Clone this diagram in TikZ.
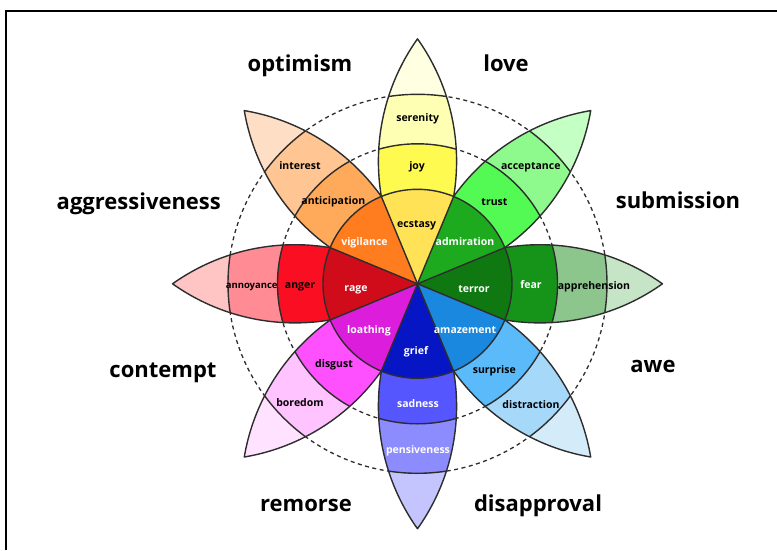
\documentclass[tikz,border=0pt]{standalone}
\usepackage{fontspec}
\setmainfont{Open Sans}
\definecolor{lineC}{RGB}{45,45,45}
% fear petal
\definecolor{terrorC}{RGB}{16,120,16}
\definecolor{fearC}{RGB}{22,148,26}
\definecolor{apprC}{RGB}{140,198,140}
\definecolor{fearT}{RGB}{198,228,198}
% trust petal
\definecolor{admirC}{RGB}{30,170,30}
\definecolor{trustC}{RGB}{84,250,84}
\definecolor{acceptC}{RGB}{142,250,142}
\definecolor{trustT}{RGB}{196,255,196}
% joy petal
\definecolor{ecstasyC}{RGB}{255,226,86}
\definecolor{joyC}{RGB}{255,250,80}
\definecolor{serenC}{RGB}{255,255,180}
\definecolor{joyT}{RGB}{255,255,226}
% anticipation petal
\definecolor{vigilC}{RGB}{255,125,30}
\definecolor{anticC}{RGB}{255,170,90}
\definecolor{interC}{RGB}{255,198,148}
\definecolor{anticT}{RGB}{255,222,198}
% anger petal
\definecolor{rageC}{RGB}{208,12,26}
\definecolor{angerC}{RGB}{250,14,34}
\definecolor{annoyC}{RGB}{255,140,148}
\definecolor{angerT}{RGB}{255,196,196}
% disgust petal
\definecolor{loathC}{RGB}{220,30,220}
\definecolor{disgC}{RGB}{255,80,255}
\definecolor{boredC}{RGB}{255,196,255}
\definecolor{disgT}{RGB}{255,226,255}
% sadness petal
\definecolor{griefC}{RGB}{6,22,196}
\definecolor{sadC}{RGB}{86,86,255}
\definecolor{pensC}{RGB}{140,140,255}
\definecolor{sadT}{RGB}{196,196,255}
% surprise petal
\definecolor{amazeC}{RGB}{26,136,222}
\definecolor{surpC}{RGB}{90,186,250}
\definecolor{distrC}{RGB}{166,216,250}
\definecolor{surpT}{RGB}{212,236,250}
\begin{document}
\begin{tikzpicture}[x=1pt,y=1pt,
  edge/.style={draw=lineC,line width=1.4pt,line join=round},
  ringdash/.style={draw=lineC,line width=1.3pt,dash pattern=on 4pt off 3.5pt},
  petalpath/.style={insert path={(0,0) arc[start angle=125.41,end angle=54.59,radius=211.4] arc[start angle=-54.59,end angle=-125.41,radius=211.4] -- cycle}},
  lab/.style={font=\bfseries\fontsize{10.5}{12}\selectfont,inner sep=0pt,text height=0.72em,text depth=0.2em},
  wlab/.style={lab,text=white},
  small/.style={lab,font=\bfseries\fontsize{9.5}{11}\selectfont},
  big/.style={font=\bfseries\fontsize{22}{24}\selectfont,inner sep=0pt,text height=0.72em,text depth=0.2em}]
\useasboundingbox (-417.5,-266.2) rectangle (359.5,283.8);
\def\Ra{94.5}
\def\Rb{140}
\def\Rc{189.5}
% frame
\draw[line width=2.4pt] (-411.3,-266.2) -- (-411.3,273.1) -- (359.5,273.1);
% dashed circles
\draw[ringdash] (0,0) circle[radius=\Rb];
\draw[ringdash] (0,0) circle[radius=\Rc];
% petals
\foreach \a/\cb/\cc/\cd in {0/fearC/apprC/fearT,45/trustC/acceptC/trustT,90/joyC/serenC/joyT,135/anticC/interC/anticT,180/angerC/annoyC/angerT,225/disgC/boredC/disgT,270/sadC/pensC/sadT,315/surpC/distrC/surpT}{
  \begin{scope}[rotate=\a]
    \begin{scope}
      \clip[petalpath];
      \fill[\cd] (0,0) circle[radius=260];
      \fill[\cc] (0,0) circle[radius=\Rc];
      \fill[\cb] (0,0) circle[radius=\Rb];
      \draw[edge] (0,0) circle[radius=\Rc];
      \draw[edge] (0,0) circle[radius=\Rb];
    \end{scope}
    \draw[edge,petalpath];
  \end{scope}
}
% inner circle sectors
\foreach \a/\c in {0/terrorC,45/admirC,90/ecstasyC,135/vigilC,180/rageC,225/loathC,270/griefC,315/amazeC}{
  \fill[\c] (0,0) -- ({\a-22.5}:\Ra) arc[start angle={\a-22.5},end angle={\a+22.5},radius=\Ra] -- cycle;
}
\foreach \a in {22.5,67.5,...,337.5}{
  \draw[edge] (0,0) -- (\a:\Ra);
}
\draw[edge] (0,0) circle[radius=\Ra];
% labels in image coordinates
\begin{scope}[shift={(-417.5,283.8)},y=-1pt]
  \node[lab]  (serenity) at (417.7,118.8) {serenity};
  \node[lab]  (joy) at (417,166.5) {joy};
  \node[lab]  (ecstasy) at (416.7,224.8) {ecstasy};
  \node[lab]  (interest) at (300,166.5) {interest};
  \node[lab]  (anticipation) at (333.3,201.5) {anticipation};
  \node[wlab] (vigilance) at (364.5,243.2) {vigilance};
  \node[lab]  (acceptance) at (530.8,166.5) {acceptance};
  \node[lab]  (trust) at (494.5,203.2) {trust};
  \node[wlab] (admiration) at (465,243.2) {admiration};
  \node[small] (annoyance) at (251.7,285.8) {annoyance};
  \node[lab]  (anger) at (300,285.8) {anger};
  \node[wlab] (rage) at (356,289.2) {rage};
  \node[wlab] (terror) at (474,289.8) {terror};
  \node[wlab] (fear) at (531,285.8) {fear};
  \node[lab]  (apprehension) at (594,286.5) {apprehension};
  \node[wlab] (loathing) at (369,330.8) {loathing};
  \node[lab]  (disgust) at (334,364.8) {disgust};
  \node[lab]  (boredom) at (300,404.2) {boredom};
  \node[wlab] (amazement) at (465,330.8) {amazement};
  \node[lab]  (surprise) at (494.3,370.5) {surprise};
  \node[lab]  (distraction) at (531,405.5) {distraction};
  \node[wlab] (grief) at (416,352.2) {grief};
  \node[wlab] (sadness) at (418,404.8) {sadness};
  \node[wlab] (pensiveness) at (418,450.8) {pensiveness};
  \node[big] (optimism) at (300,69) {optimism};
  \node[big] (love) at (506,69) {love};
  \node[big] (aggressiveness) at (138.8,207) {aggressiveness};
  \node[big] (submission) at (678,205.5) {submission};
  \node[big] (contempt) at (163,374.5) {contempt};
  \node[big] (awe) at (653,369.5) {awe};
  \node[big] (remorse) at (306,508.5) {remorse};
  \node[big] (disapproval) at (538,508.5) {disapproval};
\end{scope}
\end{tikzpicture}
\end{document}
